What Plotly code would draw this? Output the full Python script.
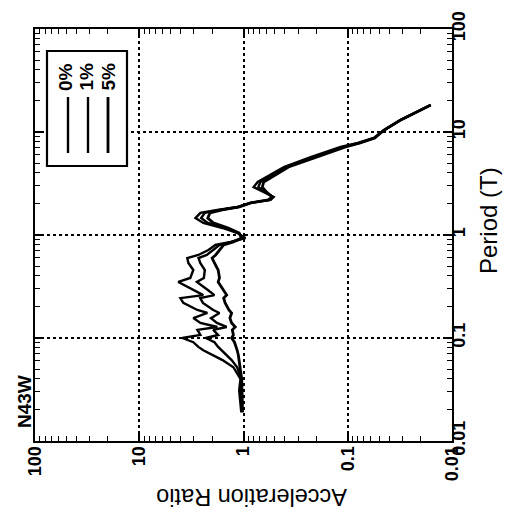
import plotly.graph_objects as go

# ---- data ----
period = [0.019, 0.025, 0.031, 0.040, 0.052, 0.061, 0.068, 0.076, 0.082, 0.091,
          0.100, 0.107, 0.120, 0.128, 0.140, 0.156, 0.175, 0.187, 0.219, 0.244,
          0.261, 0.292, 0.350, 0.383, 0.457, 0.535, 0.598, 0.640, 0.714, 0.800,
          0.855, 0.935, 1.045, 1.17, 1.31, 1.46, 1.64, 1.75, 1.87, 2.05,
          2.19, 2.34, 2.61, 2.92, 3.27, 3.83, 4.57, 5.71, 7.15, 7.82,
          8.75, 10.4, 13.1, 18.3]

ratio_0 = [1.05, 1.08, 1.10, 1.07, 1.25, 1.59, 1.99, 2.43, 2.71, 3.03,
           3.86, 2.59, 2.77, 1.78, 2.59, 3.03, 2.22, 2.77, 3.78, 4.03,
           2.43, 3.03, 4.22, 3.24, 3.03, 3.38, 3.46, 2.71, 2.17, 1.86,
           1.33, 0.96, 1.14, 1.59, 2.43, 2.89, 2.59, 1.78, 1.14, 0.857,
           0.55, 0.515, 0.643, 0.80, 0.73, 0.55, 0.41, 0.227, 0.117, 0.080,
           0.056, 0.045, 0.031, 0.016]

ratio_1 = [1.03, 1.05, 1.06, 1.05, 1.15, 1.30, 1.45, 1.65, 1.75, 1.90,
           2.30, 1.75, 1.95, 1.45, 1.80, 2.05, 1.70, 1.95, 2.45, 2.60,
           1.90, 2.20, 2.80, 2.40, 2.35, 2.60, 2.70, 2.25, 1.95, 1.70,
           1.30, 1.00, 1.12, 1.50, 2.20, 2.55, 2.35, 1.70, 1.12, 0.86,
           0.56, 0.52, 0.62, 0.72, 0.69, 0.53, 0.39, 0.21, 0.11, 0.078,
           0.056, 0.045, 0.031, 0.016]

ratio_5 = [1.02, 1.03, 1.03, 1.04, 1.08, 1.10, 1.12, 1.15, 1.18, 1.22,
           1.30, 1.25, 1.28, 1.20, 1.30, 1.35, 1.30, 1.38, 1.50, 1.55,
           1.45, 1.55, 1.75, 1.70, 1.75, 1.90, 2.00, 1.85, 1.70, 1.55,
           1.25, 1.05, 1.10, 1.40, 1.95, 2.20, 2.10, 1.60, 1.10, 0.85,
           0.58, 0.53, 0.60, 0.66, 0.64, 0.50, 0.37, 0.20, 0.105, 0.076,
           0.055, 0.045, 0.031, 0.016]

series_names = ["0%", "1%", "5%"]
tick_vals = [0.01, 0.1, 1, 10, 100]
tick_text = ["<b>0.01</b>", "<b>0.1</b>", "<b>1</b>", "<b>10</b>", "<b>100</b>"]

# ---- layout geometry (pixels) ----
W, H = 508, 509
L, R, T, B = 35, 452, 29, 441


def px(x):
    return (x - L) / (R - L)


def py(y):
    return (B - y) / (B - T)


minor_vals = [k * 10.0 ** n for n in range(-2, 2) for k in range(2, 10)]
FONT = "Liberation Sans, Arial, sans-serif"

fig = go.Figure()
for name, vals, w in zip(series_names, [ratio_0, ratio_1, ratio_5], [2.4, 2.4, 2.8]):
    fig.add_trace(go.Scatter(x=vals, y=period, mode="lines", name=name,
                             line=dict(color="black", width=w), showlegend=False))

axis_common = dict(
    type="log", tickvals=tick_vals, ticktext=tick_text, tickangle=-90,
    ticks="inside", ticklen=8, tickwidth=1.5, tickcolor="black",
    showline=True, linewidth=2.2, linecolor="black", mirror="allticks",
    showgrid=True, gridcolor="black", griddash="dot", gridwidth=1.8,
    zeroline=False, automargin=False,
    tickfont=dict(family=FONT, size=18, color="black"),
    minor=dict(tickvals=minor_vals, ticks="inside", ticklen=5, tickwidth=1.4,
               tickcolor="black", showgrid=False),
)

fig.update_layout(
    width=W, height=H,
    margin=dict(l=L, r=W - R, t=T, b=H - B, pad=0),
    paper_bgcolor="white", plot_bgcolor="white",
    xaxis=dict(range=[2, -2], ticklabelstandoff=-4, **axis_common),
    yaxis=dict(range=[-2, 2], side="right", ticklabelstandoff=-11, **axis_common),
    font=dict(family=FONT, color="black"),
)

# titles
fig.add_annotation(text="Acceleration Ratio", x=px(252), y=py(497), xref="paper", yref="paper",
                   showarrow=False, textangle=180, font=dict(size=23.5, family=FONT),
                   xanchor="center", yanchor="middle")
fig.add_annotation(text="Period (T)", x=px(488), y=py(220), xref="paper", yref="paper",
                   showarrow=False, textangle=-90, font=dict(size=24, family=FONT),
                   xanchor="center", yanchor="middle")
fig.add_annotation(text="<b>N43W</b>", x=px(24), y=py(402), xref="paper", yref="paper",
                   showarrow=False, textangle=-90, font=dict(size=19, family=FONT),
                   xanchor="center", yanchor="middle")

# legend (drawn rotated like the reference)
fig.add_shape(type="rect", xref="paper", yref="paper", x0=px(47), x1=px(127), y0=py(51), y1=py(166),
              line=dict(color="black", width=2.2), fillcolor="white", layer="above")
for name, lx, tx, w in zip(series_names, [68, 88, 108], [66, 86.5, 108.5], [2.4, 2.4, 2.8]):
    fig.add_shape(type="line", xref="paper", yref="paper", x0=px(lx), x1=px(lx), y0=py(97), y1=py(153),
                  line=dict(color="black", width=w), layer="above")
    fig.add_annotation(text="<b>" + name + "</b>", x=px(tx), y=py(77), xref="paper", yref="paper",
                       showarrow=False, textangle=-90, font=dict(size=19, family=FONT),
                       xanchor="center", yanchor="middle")

fig.write_html("out.html", config={"displayModeBar": False},
               post_script="document.body.style.margin='0';document.body.style.overflow='hidden';")
